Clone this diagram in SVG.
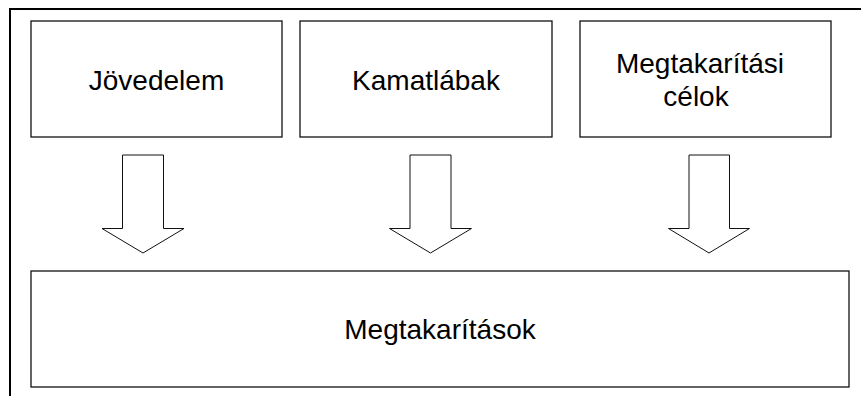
<svg xmlns="http://www.w3.org/2000/svg" width="861" height="396" viewBox="0 0 861 396">
  <style>
    .box { fill: #fff; stroke: #111; stroke-width: 1.3; }
    .arrow { fill: #fff; stroke: #111; stroke-width: 1; stroke-linejoin: miter; }
    .lbl { font-family: "Liberation Sans", Arial, sans-serif; font-size: 28px; fill: #000; text-anchor: middle; }
    .frame { stroke: #000; stroke-width: 2; fill: none; }
  </style>
  <rect width="861" height="396" fill="#fff"/>
  <!-- outer frame (top and left edges) -->
  <path class="frame" d="M10 396 V9 H861"/>

  <g id="node-jovedelem">
    <rect class="box" x="31" y="21" width="251" height="116"/>
    <text class="lbl" x="156.5" y="89.5">Jövedelem</text>
  </g>
  <g id="node-kamatlabak">
    <rect class="box" x="300" y="21" width="252" height="116"/>
    <text class="lbl" x="426" y="89.5">Kamatlábak</text>
  </g>
  <g id="node-celok">
    <rect class="box" x="580" y="21" width="251" height="116"/>
    <text class="lbl" x="700" y="72.5">Megtakarítási</text>
    <text class="lbl" x="696" y="106">célok</text>
  </g>
  <g id="node-megtakaritasok">
    <rect class="box" x="31" y="271" width="818" height="116"/>
    <text class="lbl" x="440" y="338.5">Megtakarítások</text>
  </g>

  <g id="connectors">
    <path class="arrow" d="M122.5 155 H163.5 V228.5 H184 L143 253 L102 228.5 H122.5 Z"/>
    <path class="arrow" d="M410 155 H451 V228.5 H471.5 L430.5 253 L389.5 228.5 H410 Z"/>
    <path class="arrow" d="M689 155 H729.5 V228.5 H749.5 L709 253 L668.5 228.5 H689 Z"/>
  </g>
</svg>
